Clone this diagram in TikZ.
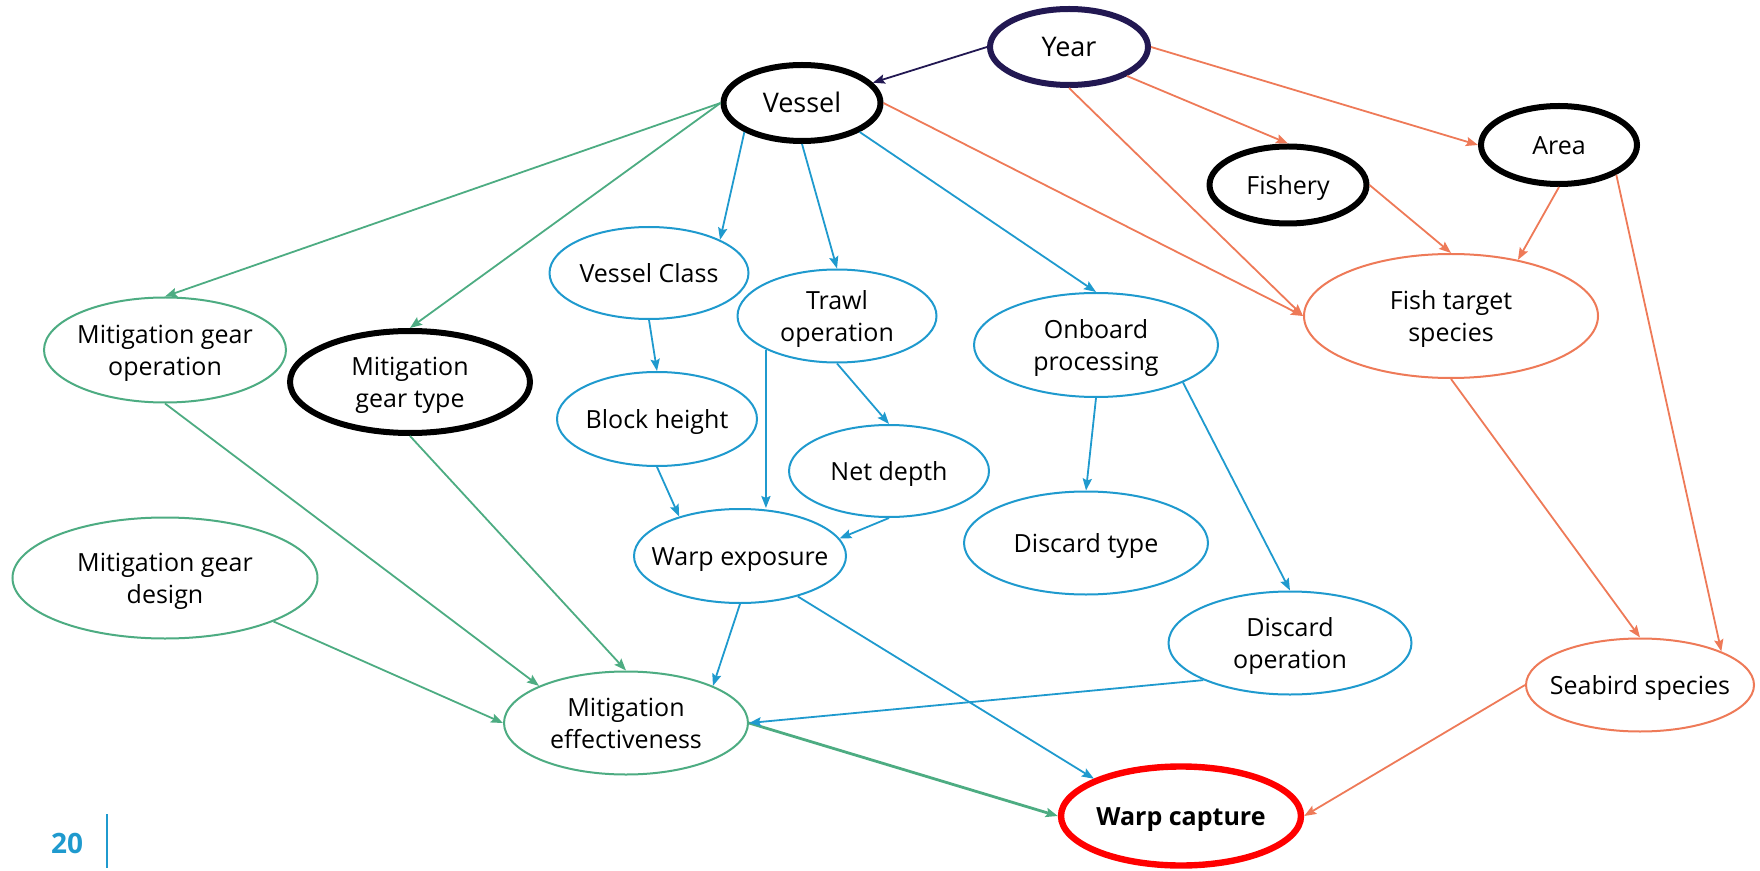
\documentclass[tikz,border=0pt]{standalone}
\usepackage{fontspec}
\setmainfont{Open Sans}
\usepackage{tikz}
\usetikzlibrary{shapes, arrows.meta, positioning}
\definecolor{navy}{RGB}{34,24,82}
\definecolor{seagreen}{RGB}{77,172,130}
\definecolor{oceanblue}{RGB}{31,154,206}
\definecolor{coral}{RGB}{238,122,88}
\definecolor{red}{rgb}{1.000, 0.000, 0.000}
\newcommand{\ctext}[1]{\makebox[0pt]{\raisebox{-1.5pt}[\height][\depth]{\begin{tabular}{@{}c@{}}#1\end{tabular}}}}

\begin{document}
\begin{tikzpicture}[x=0.5pt, y=-0.5pt]
    \tikzstyle{var} = [ellipse, draw, fill=white, inner sep=0pt, font=\fontsize{12.5}{16}\selectfont]
    \tikzstyle{key} = [var, line width=3pt, draw=black]
    \tikzstyle{gear} = [var, line width=1pt, draw=seagreen]
    \tikzstyle{ops} = [var, line width=1pt, draw=oceanblue]
    \tikzstyle{env} = [var, line width=1pt, draw=coral]
    \tikzstyle{arrow} = [line width=0.9pt, ->, >={Stealth[length=6pt, width=4.6pt, inset=1pt]}]

    \useasboundingbox (0,0) rectangle (1760,871);

    \node [key, draw=navy, minimum width=79pt, minimum height=38pt, font=\fontsize{13.5}{16}\selectfont] (year) at (1069,47) {\ctext{Year}};
    \node [key, minimum width=78.5pt, minimum height=38pt, font=\fontsize{13.5}{16}\selectfont] (vessel) at (802,103) {\ctext{Vessel}};
    \node [key, minimum width=78pt, minimum height=39pt] (area) at (1559,145) {\ctext{Area}};
    \node [key, minimum width=78.5pt, minimum height=38.5pt] (fishery) at (1288,185) {\ctext{Fishery}};
    \node [env, minimum width=147pt, minimum height=62pt] (fishtarget) at (1451,316) {\ctext{Fish target\\species}};
    \node [env, minimum width=114pt, minimum height=46.5pt] (seabird) at (1640,685) {\ctext{Seabird species}};

    \node [ops, minimum width=99.5pt, minimum height=46pt] (vclass) at (649,273) {\ctext{Vessel Class}};
    \node [ops, minimum width=99.5pt, minimum height=46.5pt] (trawl) at (837,316) {\ctext{Trawl\\operation}};
    \node [ops, minimum width=122pt, minimum height=52pt] (onboard) at (1096,345) {\ctext{Onboard\\processing}};
    \node [ops, minimum width=100pt, minimum height=47pt] (block) at (657,419) {\ctext{Block height}};
    \node [ops, minimum width=100pt, minimum height=46pt] (netdepth) at (889,471) {\ctext{Net depth}};
    \node [ops, minimum width=106pt, minimum height=47pt] (warpexp) at (740,556) {\ctext{Warp exposure}};
    \node [ops, minimum width=122pt, minimum height=51.5pt] (discardtype) at (1086,543) {\ctext{Discard type}};
    \node [ops, minimum width=121.5pt, minimum height=51.5pt] (discardop) at (1290,643) {\ctext{Discard\\operation}};

    \node [gear, minimum width=121pt, minimum height=52.5pt] (mgop) at (165,350) {\ctext{Mitigation gear\\operation}};
    \node [key, minimum width=120pt, minimum height=51pt] (mgtype) at (410,382) {\ctext{Mitigation\\gear type}};
    \node [gear, minimum width=152.5pt, minimum height=60.5pt] (mgdesign) at (165,578) {\ctext{Mitigation gear\\design}};
    \node [gear, minimum width=122pt, minimum height=51.5pt] (mitieff) at (626,723) {\ctext{Mitigation\\effectiveness}};

    \node [key, draw=red, line width=3.2pt, minimum width=120pt, minimum height=49.5pt, font=\fontsize{12.5}{16}\selectfont\bfseries] (warpcap) at (1181,816) {\ctext{Warp capture}};

    \node [font=\fontsize{14}{16}\selectfont\bfseries, text=oceanblue] (page) at (67,843) {20};
    \coordinate (ruletop) at (107,814);
    \coordinate (rulebot) at (107,868);
    \draw [oceanblue, line width=1pt] (ruletop) -- (rulebot);

    \draw [arrow, navy] (year.west) -- (vessel.16);

    \draw [arrow, coral] (year.south east) -- (fishery.north);
    \draw [arrow, coral] (year.east) -- (area.west);
    \draw [arrow, coral] (year.south) -- (fishtarget.west);
    \draw [arrow, coral] (vessel.east) -- (fishtarget.west);
    \draw [arrow, coral] (fishery.east) -- (fishtarget.north);
    \draw [arrow, coral] (area.south) -- (fishtarget.40);
    \draw [arrow, coral] (area.south east) -- (seabird.north east);
    \draw [arrow, coral] (fishtarget.south) -- (seabird.north);
    \draw [arrow, coral] (seabird.west) -- (warpcap.east);

    \draw [arrow, seagreen] (vessel.west) -- (mgop.north);
    \draw [arrow, seagreen] (vessel.west) -- (mgtype.north);
    \draw [arrow, seagreen] (mgop.south) -- (mitieff.north west);
    \draw [arrow, seagreen] (mgtype.south) -- (mitieff.north);
    \draw [arrow, seagreen] (mgdesign.south east) -- (mitieff.west);
    \draw [arrow, seagreen, line width=1.4pt] (mitieff.east) -- (warpcap.west);

    \draw [arrow, oceanblue] (vessel.south west) -- (vclass.north east);
    \draw [arrow, oceanblue] (vessel.south) -- (trawl.north);
    \draw [arrow, oceanblue] (vessel.south east) -- (onboard.north);
    \draw [arrow, oceanblue] (vclass.south) -- (block.north);
    \draw [arrow, oceanblue] (block.south) -- (warpexp.147);
    \draw [arrow, oceanblue] (trawl.south west) -- (trawl.south west |- warpexp.north);
    \draw [arrow, oceanblue] (trawl.south) -- (netdepth.north);
    \draw [arrow, oceanblue] (netdepth.south) -- (warpexp.10);
    \draw [arrow, oceanblue] (onboard.south) -- (discardtype.north);
    \draw [arrow, oceanblue] (onboard.south east) -- (discardop.north);
    \draw [arrow, oceanblue] (warpexp.south) -- (mitieff.north east);
    \draw [arrow, oceanblue] (warpexp.-35) -- (warpcap.north west);
    \draw [arrow, oceanblue] (discardop.south west) -- (mitieff.east);
\end{tikzpicture}
\end{document}
